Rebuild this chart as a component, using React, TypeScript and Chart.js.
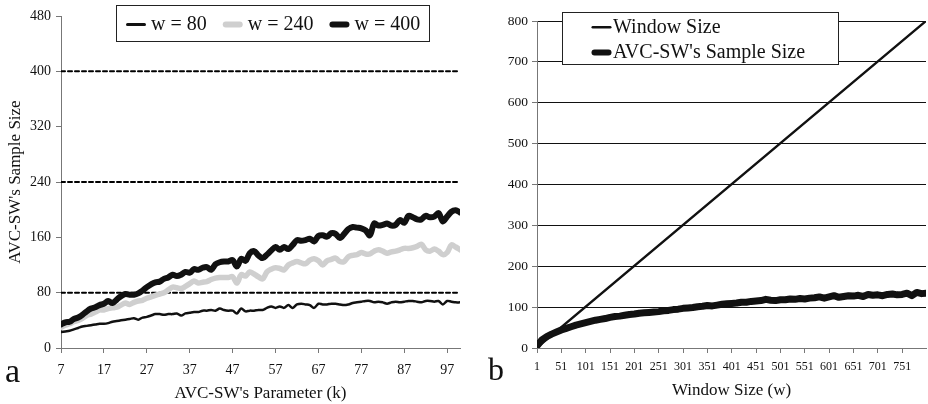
import React, { useEffect, useRef } from 'react';
import { Chart, registerables } from 'chart.js';

Chart.register(...registerables);

const FONT = '"Liberation Serif", "Times New Roman", serif';

// ---------- Panel a data ----------
const kValues = [
  7, 8, 9, 10, 11, 12, 13, 14, 15, 16, 17, 18, 19, 20, 21, 22, 23, 24, 25, 26, 27, 28, 29, 30,
  31, 32, 33, 34, 35, 36, 37, 38, 39, 40, 41, 42, 43, 44, 45, 46, 47, 48, 49, 50, 51, 52, 53,
  54, 55, 56, 57, 58, 59, 60, 61, 62, 63, 64, 65, 66, 67, 68, 69, 70, 71, 72, 73, 74, 75, 76, 77,
  78, 79, 80, 81, 82, 83, 84, 85, 86, 87, 88, 89, 90, 91, 92, 93, 94, 95, 96, 97, 98, 99, 100,
];
const kTickLabels = [7, 17, 27, 37, 47, 57, 67, 77, 87, 97];

const sampleW80 = [
  23, 24, 25, 27, 29, 31, 32, 33, 34, 35, 35, 36, 38, 39, 40, 41, 42, 43, 41, 44, 45, 47, 49, 49,
  48, 49, 49, 50, 47, 50, 51, 52, 52, 54, 54, 55, 54, 57, 55, 54, 54, 50, 57, 53, 54, 54, 55,
  55, 58, 60, 58, 60, 58, 62, 58, 63, 64, 63, 62, 58, 64, 63, 63, 64, 64, 63, 62, 63, 65, 66, 67,
  68, 68, 66, 67, 66, 64, 66, 67, 66, 67, 68, 68, 67, 66, 68, 68, 67, 68, 63, 68, 67, 66, 66,
];
const sampleW240 = [
  30, 33, 35, 38, 40, 43, 47, 49, 52, 55, 55, 57, 58, 59, 62, 65, 63, 66, 68, 69, 72, 74, 76, 78,
  80, 84, 88, 87, 86, 89, 93, 97, 94, 95, 96, 99, 101, 102, 102, 102, 103, 94, 106, 104, 110, 107, 103,
  100, 110, 114, 116, 115, 113, 120, 123, 125, 123, 122, 127, 129, 126, 120, 126, 128, 130, 125, 125, 132, 134, 135, 138,
  136, 136, 140, 142, 140, 137, 139, 140, 142, 144, 144, 145, 147, 150, 142, 140, 143, 140, 135, 138, 149, 146, 142,
];
const sampleW400 = [
  34, 37, 38, 42, 44, 48, 53, 57, 59, 62, 64, 68, 65, 70, 75, 78, 77, 77, 79, 83, 88, 92, 95, 96,
  100, 102, 106, 104, 106, 110, 109, 114, 113, 116, 117, 113, 121, 124, 125, 125, 127, 118, 129, 126, 137, 140, 134,
  130, 135, 141, 146, 142, 146, 143, 149, 156, 155, 156, 158, 154, 162, 163, 161, 166, 165, 159, 165, 172, 175, 174, 173,
  170, 163, 180, 177, 178, 180, 177, 178, 185, 181, 191, 189, 186, 186, 191, 189, 190, 195, 183, 190, 197, 199, 196,
];
const windowLevels = [80, 240, 400];

// ---------- Panel b data ----------
const wTickLabels = [1, 51, 101, 151, 201, 251, 301, 351, 401, 451, 501, 551, 601, 651, 701, 751];
const windowSizeX = [1, 800];
const windowSizeY = [1, 800];
const sampleW = [
  1, 11, 21, 31, 41, 51, 61, 71, 81, 91,
  101, 111, 121, 131, 141, 151, 161, 171, 181, 191,
  201, 211, 221, 231, 241, 251, 261, 271, 281, 291,
  301, 311, 321, 331, 341, 351, 361, 371, 381, 391,
  401, 411, 421, 431, 441, 451, 461, 471, 481, 491,
  501, 511, 521, 531, 541, 551, 561, 571, 581, 591,
  601, 611, 621, 631, 641, 651, 661, 671, 681, 691,
  701, 711, 721, 731, 741, 751, 761, 771, 781, 791,
  800,
];
const sampleSizeB = [
  5, 20, 28, 34, 39, 44, 48, 52, 56, 59,
  62, 65, 68, 70, 72, 75, 77, 78, 80, 82,
  83, 85, 86, 87, 88, 89, 91, 92, 94, 95,
  97, 98, 99, 101, 102, 104, 103, 105, 107, 108,
  109, 110, 112, 112, 114, 115, 116, 119, 117, 116,
  118, 118, 120, 119, 121, 120, 122, 123, 125, 122,
  125, 128, 124, 126, 128, 127, 129, 126, 131, 129,
  130, 128, 131, 132, 130, 131, 134, 128, 136, 133,
  134,
];

// ---------- plugins ----------
const boxLegend = {
  id: 'boxLegend',
  afterDraw(chart: any, _args: any, opts: any) {
    if (!opts || !opts.box) return;
    const ctx = chart.ctx as CanvasRenderingContext2D;
    const { x, y, w, h } = opts.box;
    ctx.save();
    ctx.fillStyle = '#ffffff';
    ctx.fillRect(x, y, w, h);
    ctx.strokeStyle = '#222';
    ctx.lineWidth = 1;
    ctx.strokeRect(x + 0.5, y + 0.5, w, h);
    ctx.font = `${opts.fontSize}px ${FONT}`;
    ctx.textBaseline = 'middle';
    const items = chart.data.datasets.filter((d: any) => d.label && !d.noLegend);
    let sx = x + opts.padLeft;
    let cy = y + opts.padTop;
    items.forEach((ds: any) => {
      const lw = ds.legendWidth || ds.borderWidth;
      ctx.beginPath();
      ctx.lineCap = 'round';
      ctx.lineWidth = lw;
      ctx.strokeStyle = ds.borderColor;
      ctx.moveTo(sx + lw / 2, cy);
      ctx.lineTo(sx + opts.lineLen - lw / 2, cy);
      ctx.stroke();
      ctx.fillStyle = '#111';
      const tx = sx + opts.lineLen + opts.textGap;
      ctx.fillText(ds.label, tx, cy);
      if (opts.vertical) {
        cy += opts.rowH;
      } else {
        sx = tx + ctx.measureText(ds.label).width + opts.itemGap;
      }
    });
    ctx.restore();
  },
};

const panelLabel = {
  id: 'panelLabel',
  afterDraw(chart: any, _args: any, opts: any) {
    if (!opts || !opts.text) return;
    const ctx = chart.ctx as CanvasRenderingContext2D;
    ctx.save();
    ctx.font = `${opts.size}px ${FONT}`;
    ctx.fillStyle = '#111';
    ctx.textBaseline = 'alphabetic';
    ctx.textAlign = 'left';
    ctx.fillText(opts.text, opts.x, opts.y);
    ctx.restore();
  },
};

const AXIS = '#777';

function PanelA() {
  const ref = useRef<HTMLCanvasElement>(null);
  useEffect(() => {
    if (!ref.current) return;
    const refSets = windowLevels.map((lvl) => ({
      label: '',
      noLegend: true,
      data: [
        { x: kValues[0], y: lvl },
        { x: kValues[kValues.length - 1], y: lvl },
      ],
      borderColor: '#000',
      borderWidth: 2,
      borderDash: [4, 3],
      pointRadius: 0,
      tension: 0,
      order: 3,
    }));
    const chart = new Chart(ref.current, {
      type: 'line',
      data: {
        labels: kValues,
        datasets: [
          {
            label: 'w = 80',
            data: sampleW80,
            borderColor: '#111',
            borderWidth: 2.5,
            legendWidth: 3,
            pointRadius: 0,
            tension: 0.35,
            order: 2,
          } as any,
          {
            label: 'w = 240',
            data: sampleW240,
            borderColor: '#cfcfcf',
            borderWidth: 5.5,
            legendWidth: 6,
            pointRadius: 0,
            tension: 0.35,
            order: 1,
          },
          {
            label: 'w = 400',
            data: sampleW400,
            borderColor: '#111',
            borderWidth: 6,
            legendWidth: 6,
            pointRadius: 0,
            tension: 0.35,
            order: 0,
          },
          ...refSets,
        ],
      },
      options: {
        responsive: false,
        animation: false,
        events: [],
        elements: { line: { borderJoinStyle: 'round', borderCapStyle: 'round' } },
        layout: { padding: { left: 0, right: 4, top: 16, bottom: 0 } },
        plugins: {
          legend: { display: false },
          tooltip: { enabled: false },
          boxLegend: {
            box: { x: 116, y: 5, w: 313, h: 36 },
            fontSize: 20,
            padLeft: 10,
            padTop: 19.5,
            lineLen: 20,
            textGap: 5,
            itemGap: 16,
            vertical: false,
          },
          panelLabel: { text: 'a', x: 5, y: 382, size: 34 },
        } as any,
        scales: {
          x: {
            type: 'linear',
            min: kValues[0],
            max: kValues[kValues.length - 1],
            afterBuildTicks: (s: any) => {
              s.ticks = kTickLabels.map((v) => ({ value: v }));
            },
            afterFit: (s: any) => {
              s.height = 56;
            },
            ticks: {
              autoSkip: false,
              maxRotation: 0,
              padding: 9,
              color: '#111',
              font: { family: FONT, size: 14 },
              callback: (v: any) => String(v),
            },
            grid: { drawOnChartArea: false, tickLength: 5, color: AXIS },
            border: { color: AXIS, width: 1 },
            title: {
              display: true,
              text: "AVC-SW's Parameter (k)",
              color: '#111',
              font: { family: FONT, size: 17 },
              padding: { top: 0, bottom: 0 },
            },
          },
          y: {
            min: 0,
            max: 480,
            afterFit: (s: any) => {
              s.width = 61;
            },
            ticks: {
              stepSize: 80,
              padding: 5,
              color: '#111',
              font: { family: FONT, size: 14 },
            },
            grid: { drawOnChartArea: false, tickLength: 5, color: AXIS },
            border: { color: AXIS, width: 1 },
            title: {
              display: true,
              text: "AVC-SW's Sample Size",
              color: '#111',
              font: { family: FONT, size: 17 },
              padding: { top: 5, bottom: 0 },
            },
          },
        },
      },
      plugins: [boxLegend, panelLabel],
    } as any);
    return () => chart.destroy();
  }, []);
  return <canvas ref={ref} width={464} height={404} style={{ width: 464, height: 404, display: 'block' }} />;
}

function PanelB() {
  const ref = useRef<HTMLCanvasElement>(null);
  useEffect(() => {
    if (!ref.current) return;
    const chart = new Chart(ref.current, {
      type: 'line',
      data: {
        datasets: [
          {
            label: 'Window Size',
            data: windowSizeX.map((x, i) => ({ x, y: windowSizeY[i] })),
            borderColor: '#111',
            borderWidth: 2.4,
            legendWidth: 2.5,
            pointRadius: 0,
            order: 1,
          } as any,
          {
            label: "AVC-SW's Sample Size",
            data: sampleW.map((x, i) => ({ x, y: sampleSizeB[i] })),
            borderColor: '#111',
            borderWidth: 7,
            legendWidth: 6,
            pointRadius: 0,
            order: 0,
          },
        ],
      },
      options: {
        responsive: false,
        animation: false,
        events: [],
        elements: { line: { tension: 0, borderJoinStyle: 'round', borderCapStyle: 'round' } },
        layout: { padding: { left: 0, right: 2, top: 21, bottom: 0 } },
        plugins: {
          legend: { display: false },
          tooltip: { enabled: false },
          boxLegend: {
            box: { x: 98, y: 12, w: 276, h: 52 },
            fontSize: 20,
            padLeft: 29.5,
            padTop: 15.3,
            lineLen: 20,
            textGap: 1.5,
            rowH: 25.2,
            vertical: true,
          },
          panelLabel: { text: 'b', x: 24, y: 380, size: 32 },
        } as any,
        scales: {
          x: {
            type: 'linear',
            min: 1,
            max: 800,
            afterBuildTicks: (s: any) => {
              s.ticks = wTickLabels.map((v) => ({ value: v }));
            },
            afterFit: (s: any) => {
              s.height = 56;
            },
            ticks: {
              autoSkip: false,
              maxRotation: 0,
              padding: 7,
              color: '#111',
              font: { family: FONT, size: 12 },
              callback: (v: any) => String(v),
            },
            grid: { drawOnChartArea: false, tickLength: 5, color: AXIS },
            border: { color: AXIS, width: 1 },
            title: {
              display: true,
              text: 'Window Size (w)',
              color: '#111',
              font: { family: FONT, size: 17 },
              padding: { top: 0, bottom: 3 },
            },
          },
          y: {
            min: 0,
            max: 800,
            afterFit: (s: any) => {
              s.width = 73;
            },
            ticks: {
              stepSize: 100,
              padding: 4,
              color: '#111',
              font: { family: FONT, size: 13.5 },
            },
            grid: {
              drawOnChartArea: true,
              tickLength: 5,
              color: (c: any) => (c.tick && c.tick.value === 0 ? 'rgba(0,0,0,0)' : '#111'),
              tickColor: AXIS,
              lineWidth: 1,
            },
            border: { color: AXIS, width: 1 },
          },
        },
      },
      plugins: [boxLegend, panelLabel],
    } as any);
    return () => chart.destroy();
  }, []);
  return <canvas ref={ref} width={464} height={404} style={{ width: 464, height: 404, display: 'block' }} />;
}

export default function App() {
  return (
    <div
      style={{
        position: 'fixed',
        left: 0,
        top: 0,
        width: 928,
        height: 404,
        display: 'flex',
        background: '#fff',
        overflow: 'hidden',
      }}
    >
      <PanelA />
      <PanelB />
    </div>
  );
}
